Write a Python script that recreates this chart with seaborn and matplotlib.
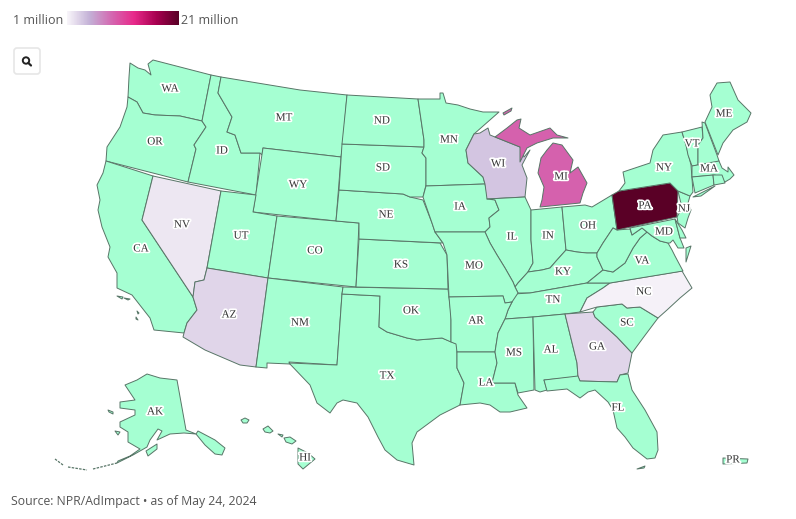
# -*- coding: utf-8 -*-
"""
Presidential campaign ad spending by state (NPR/AdImpact, May 24 2024)
"""
import numpy as np
import seaborn as sns
import matplotlib.pyplot as plt
from matplotlib.colors import Normalize
from matplotlib.patches import FancyBboxPatch, Circle
import matplotlib.patheffects as pe

# spending in millions, everything else is no data
spend_states = ["NC", "NV", "GA", "AZ", "WI", "MI", "PA"]
spend_millions = [1.2, 1.8, 2.8, 2.8, 3.8, 9.3, 21.0]
scale_min, scale_max = 1, 21

# state outlines (pixels)
WA = [(130,63),(129,77),(128,97),(137,102),(143,113),(155,115),(180,116),(202,121),(211,75),(153,60),(148,64),(151,75),(145,70),(138,68)]
OR = [(128,97),(137,102),(143,113),(155,115),(180,116),(202,121),(206,127),(194,145),(196,149),(188,182),(106,161),(107,147),(120,127),(127,107)]
CA = [(106,161),(153,176),(142,220),(193,297),(197,310),(187,323),(184,333),(154,330),(150,318),(132,295),(117,288),(117,273),(108,257),(110,247),(102,227),(98,210),(100,200),(97,185),(103,173)]
NV = [(153,176),(221,191),(207,268),(204,280),(195,282),(193,297),(142,220)]
ID = [(211,75),(221,77),(218,93),(232,117),(227,132),(235,135),(241,153),(260,153),(256,195),(188,182),(196,149),(194,145),(206,127),(202,121)]
MT = [(221,77),(300,90),(347,95),(343,143),(341,157),(263,148),(262,155),(260,153),(241,153),(235,135),(227,132),(232,117),(218,93)]
WY = [(263,148),(341,157),(336,221),(253,212)]
UT = [(221,191),(256,195),(253,212),(277,216),(268,278),(207,268)]
CO = [(277,216),(359,223),(356,287),(268,278)]
AZ = [(207,268),(268,278),(256,367),(240,365),(205,350),(183,337),(184,333),(187,323),(197,310),(193,297),(195,282),(204,280)]
NM = [(268,278),(343,287),(342,294),(337,365),(289,362),(290,364),(267,363),(267,368),(256,367)]
TX = [(342,294),(380,296),(379,327),(387,332),(407,338),(417,340),(442,338),(457,344),(457,368),(464,383),(460,405),(440,415),(417,432),(412,443),(414,465),(397,460),(385,450),(378,437),(368,417),(357,403),(343,400),(337,403),(330,413),(317,403),(310,385),(289,363),(337,365)]
OK = [(343,287),(448,289),(451,313),(451,342),(442,338),(417,340),(407,338),(387,332),(379,327),(380,296),(342,294)]
KS = [(359,239),(440,243),(447,255),(448,289),(356,287)]
NE = [(339,190),(403,194),(410,197),(423,200),(432,223),(435,232),(443,243),(359,239),(359,223),(336,221)]
SD = [(342,144),(424,147),(422,153),(426,158),(426,185),(423,197),(410,197),(403,194),(339,190)]
ND = [(347,95),(418,99),(424,140),(424,147),(342,144)]
MN = [(418,99),(440,99),(440,93),(443,93),(446,103),(458,105),(470,109),(483,112),(499,112),(474,134),(472,138),(466,150),(468,163),(483,177),(485,184),(426,186),(426,158),(422,153),(424,147),(424,140)]
IA = [(426,186),(485,184),(487,193),(495,200),(499,210),(489,218),(490,227),(485,232),(435,232),(432,223),(424,200),(423,197)]
WI = [(474,134),(480,133),(488,128),(490,135),(495,137),(520,147),(524,157),(530,150),(522,165),(527,178),(525,197),(487,199),(485,184),(483,177),(468,163),(466,150),(472,138)]
MI_UP = [(495,137),(507,128),(517,120),(521,119),(519,128),(530,135),(550,128),(557,135),(568,138),(553,138),(537,143),(527,148),(520,162),(520,147)]
MI_LP = [(541,158),(547,150),(553,143),(562,145),(573,160),(570,173),(578,167),(587,183),(583,193),(580,203),(540,207),(542,200),(544,187),(538,173)]
MI_ISLE = [(503,113),(512,108),(511,111),(504,115)]
IL = [(487,199),(525,197),(531,210),(531,240),(533,263),(528,272),(518,283),(515,287),(513,282),(505,268),(497,255),(490,243),(485,232),(490,227),(489,218),(499,210),(495,200)]
IN = [(531,210),(562,207),(566,250),(557,260),(550,268),(542,270),(528,272),(533,263),(531,240)]
OH = [(562,207),(585,205),(592,207),(612,195),(617,230),(613,228),(603,243),(597,253),(587,253),(577,252),(566,250)]
KY = [(566,250),(577,252),(587,253),(597,253),(597,257),(603,270),(587,283),(530,293),(518,293),(515,287),(518,283),(528,272),(542,270),(550,268),(557,260)]
TN = [(513,294),(530,293),(587,283),(610,283),(603,288),(587,298),(580,312),(565,314),(533,317),(505,319),(508,310),(512,302)]
MO = [(435,232),(485,232),(490,243),(497,255),(505,268),(513,282),(515,287),(518,293),(512,302),(505,303),(503,296),(449,297),(447,255),(443,243)]
AR = [(449,297),(503,296),(505,303),(512,302),(508,310),(505,319),(498,333),(495,352),(457,352),(456,344),(451,342),(451,320)]
LA = [(457,352),(495,352),(497,363),(492,383),(515,383),(518,395),(527,408),(510,412),(500,412),(490,405),(480,403),(460,405),(464,383),(457,368)]
MS = [(505,319),(533,317),(534,390),(518,393),(515,383),(492,383),(497,363),(495,352),(498,333)]
AL = [(533,317),(565,314),(577,363),(578,377),(544,380),(547,390),(540,392),(535,390)]
GA = [(565,314),(593,312),(595,317),(617,337),(632,353),(628,373),(620,375),(617,382),(580,381),(578,377),(577,363)]
FL = [(544,380),(578,376),(580,381),(617,382),(620,375),(628,374),(632,390),(645,410),(657,432),(658,450),(655,458),(647,459),(633,448),(625,437),(617,428),(613,410),(608,402),(595,390),(588,392),(580,398),(567,389),(547,391)]
SC = [(597,307),(622,304),(627,308),(640,307),(658,318),(643,338),(632,353),(617,337),(595,317),(593,312)]
NC = [(610,283),(682,271),(692,288),(680,298),(667,310),(658,318),(640,307),(627,308),(622,304),(597,307),(580,312),(587,298),(603,288)]
VA = [(587,283),(603,270),(613,272),(625,263),(633,248),(640,238),(647,232),(652,236),(660,241),(668,243),(672,250),(675,256),(683,271),(610,283)]
WV = [(617,230),(630,229),(632,235),(642,228),(647,232),(640,238),(633,248),(625,263),(613,272),(603,270),(597,257),(597,253),(603,243),(613,228)]
MD = [(630,228),(675,219),(680,238),(684,248),(678,248),(673,240),(670,243),(668,243),(660,241),(652,236),(647,232),(642,228),(632,235)]
DE = [(675,219),(682,230),(686,238),(680,238)]
VA_SHORE = [(686,248),(691,246),(686,262)]
PA = [(612,195),(619,191),(670,183),(678,191),(677,217),(617,230)]
NJ = [(678,191),(690,196),(688,203),(691,210),(688,218),(685,228),(678,223),(677,217),(682,208)]
NY = [(619,191),(625,183),(623,172),(650,163),(653,150),(663,135),(682,132),(686,145),(691,165),(693,192),(690,196),(678,191),(670,183)]
NY_LI = [(693,197),(715,186),(701,196)]
VT = [(682,132),(702,127),(703,138),(698,145),(698,165),(692,166),(688,155),(686,145)]
NH = [(702,122),(705,123),(717,155),(719,161),(713,164),(698,165),(698,145),(703,138)]
ME = [(705,122),(712,107),(710,95),(717,83),(730,82),(738,100),(751,113),(747,122),(733,130),(723,143),(718,155)]
MA = [(692,166),(719,161),(722,168),(728,172),(728,167),(734,175),(730,179),(725,182),(715,175),(692,177)]
CT = [(692,177),(713,175),(714,185),(695,193)]
RI = [(713,175),(722,175),(725,183),(714,185)]
AK = [(147,374),(160,378),(177,380),(186,430),(196,434),(184,433),(170,434),(157,440),(162,431),(158,429),(150,440),(147,447),(133,455),(117,463),(118,461),(130,456),(140,449),(128,442),(128,432),(120,427),(120,422),(135,415),(135,410),(120,408),(120,402),(135,400),(125,385),(137,380)]
AK_PAN = [(198,431),(215,440),(225,448),(222,455),(215,454),(205,445),(196,434)]
AK_KODIAK = [(157,444),(157,449),(148,456),(146,451)]
AK_ISLE1 = [(108,410),(113,412),(113,414),(109,412)]
AK_ISLE2 = [(115,431),(120,432),(118,435)]
HI_KAUAI = [(241,420),(245,418),(249,420),(247,423),(243,423)]
HI_OAHU = [(263,429),(268,426),(273,431),(270,433),(265,432)]
HI_MOLOKAI = [(278,434),(283,435),(282,437)]
HI_MAUI = [(284,438),(290,437),(296,441),(292,444),(286,442)]
HI_BIG = [(298,448),(308,453),(315,459),(303,469),(298,464),(298,455)]
PR_MAIN = [(723,458),(748,459),(747,463),(723,464)]
CA_ISLE1 = [(117,296),(123,297),(122,299)]
CA_ISLE2 = [(124,298),(130,299),(128,300)]
CA_ISLE3 = [(137,311),(139,313),(138,314)]
CA_ISLE4 = [(136,317),(138,320),(136,319)]
FL_KEYS = [(637,469),(645,466),(644,468)]

state_shapes = {
    "WA": [WA], "OR": [OR], "CA": [CA, CA_ISLE1, CA_ISLE2, CA_ISLE3, CA_ISLE4], "NV": [NV], "ID": [ID],
    "MT": [MT], "WY": [WY], "UT": [UT], "CO": [CO], "AZ": [AZ], "NM": [NM], "TX": [TX], "OK": [OK],
    "KS": [KS], "NE": [NE], "SD": [SD], "ND": [ND], "MN": [MN], "IA": [IA], "WI": [WI],
    "MI": [MI_UP, MI_LP, MI_ISLE], "IL": [IL], "IN": [IN], "OH": [OH], "KY": [KY], "TN": [TN],
    "MO": [MO], "AR": [AR], "LA": [LA], "MS": [MS], "AL": [AL], "GA": [GA], "FL": [FL, FL_KEYS],
    "SC": [SC], "NC": [NC], "VA": [VA, VA_SHORE], "WV": [WV], "MD": [MD], "DE": [DE], "PA": [PA],
    "NJ": [NJ], "NY": [NY, NY_LI], "VT": [VT], "NH": [NH], "ME": [ME], "MA": [MA], "CT": [CT],
    "RI": [RI], "AK": [AK, AK_PAN, AK_KODIAK, AK_ISLE1, AK_ISLE2],
    "HI": [HI_KAUAI, HI_OAHU, HI_MOLOKAI, HI_MAUI, HI_BIG], "PR": [PR_MAIN],
}

# aleutians are just thin strokes
aleutians = [[(55,459),(63,465)], [(68,467),(87,470)], [(93,469),(117,463)]]

label_states = ["WA","OR","ID","MT","WY","NV","CA","UT","CO","AZ","NM","ND","SD","NE","KS","OK","TX","MN","IA","MO","AR","LA","WI","IL","IN","MI","OH","KY","TN","MS","AL","GA","FL","SC","NC","VA","MD","PA","NJ","NY","VT","MA","ME","AK","HI","PR"]
label_x = [170,155,222,284,298,182,141,241,315,229,300,382,383,386,401,411,387,449,460,474,476,486,498,512,548,561,588,563,553,514,551,597,618,627,644,642,664,645,684,664,692,709,724,155,305,733]
label_y = [89,142,151,118,185,225,249,236,251,315,323,121,168,215,265,311,376,140,207,266,321,383,164,237,236,177,226,272,300,353,350,347,408,323,292,261,232,206,209,168,144,169,114,412,458,460]

sns.set_theme(style="white")
plt.rcParams["font.family"] = ["Open Sans", "DejaVu Sans"]

ramp = sns.blend_palette(["#f7f4f9", "#c3b0d6", "#d466b0", "#e7298a", "#a80050", "#5a0026"], n_colors=256, as_cmap=True)
norm = Normalize(scale_min, scale_max)
no_data = "#a5ffd2"
edge = "#587567"

fig = plt.figure(figsize=(7.96, 5.19), dpi=100)
ax = fig.add_axes([0, 0, 1, 1])
ax.set_xlim(0, 796)
ax.set_ylim(519, 0)
ax.axis("off")

spend = dict(zip(spend_states, spend_millions))
for state, parts in state_shapes.items():
    fill = ramp(norm(spend[state])) if state in spend else no_data
    for part in parts:
        xs, ys = zip(*part)
        ax.fill(xs, ys, facecolor=fill, edgecolor=edge, linewidth=0.7, joinstyle="round")

for stroke in aleutians:
    xs, ys = zip(*stroke)
    ax.plot(xs, ys, color=edge, linewidth=0.9, linestyle=(0, (2, 1)))

for code, x, y in zip(label_states, label_x, label_y):
    ax.text(x, y, code, ha="center", va="center", fontsize=8, color="#333333",
            family="Liberation Serif",
            path_effects=[pe.withStroke(linewidth=2.5, foreground="white")])

# colour scale at the top
ax_scale = fig.add_axes([67 / 796, 1 - 25 / 519, 112 / 796, 14 / 519])
sns.heatmap(np.linspace(0, 1, 112).reshape(1, -1), cmap=ramp, vmin=0, vmax=1, cbar=False,
            xticklabels=False, yticklabels=False, ax=ax_scale)
ax.text(13, 20.5, "1 million", ha="left", va="center", fontsize=9, color="#555555")
ax.text(181, 20.5, "21 million", ha="left", va="center", fontsize=9, color="#555555")

# search button
ax.add_patch(FancyBboxPatch((14, 48), 26, 26, boxstyle="round,pad=0,rounding_size=3",
                            facecolor="white", edgecolor="#e6e6e6", linewidth=1.2))
ax.add_patch(Circle((26, 60.5), 3.2, facecolor="none", edgecolor="#222222", linewidth=1.4))
ax.plot([28.4, 31], [63, 65.5], color="#222222", linewidth=1.6)

ax.text(11, 501, "Source: NPR/AdImpact • as of May 24, 2024", ha="left", va="center",
        fontsize=8.8, color="#555555")

plt.savefig("out.png", dpi=100)
